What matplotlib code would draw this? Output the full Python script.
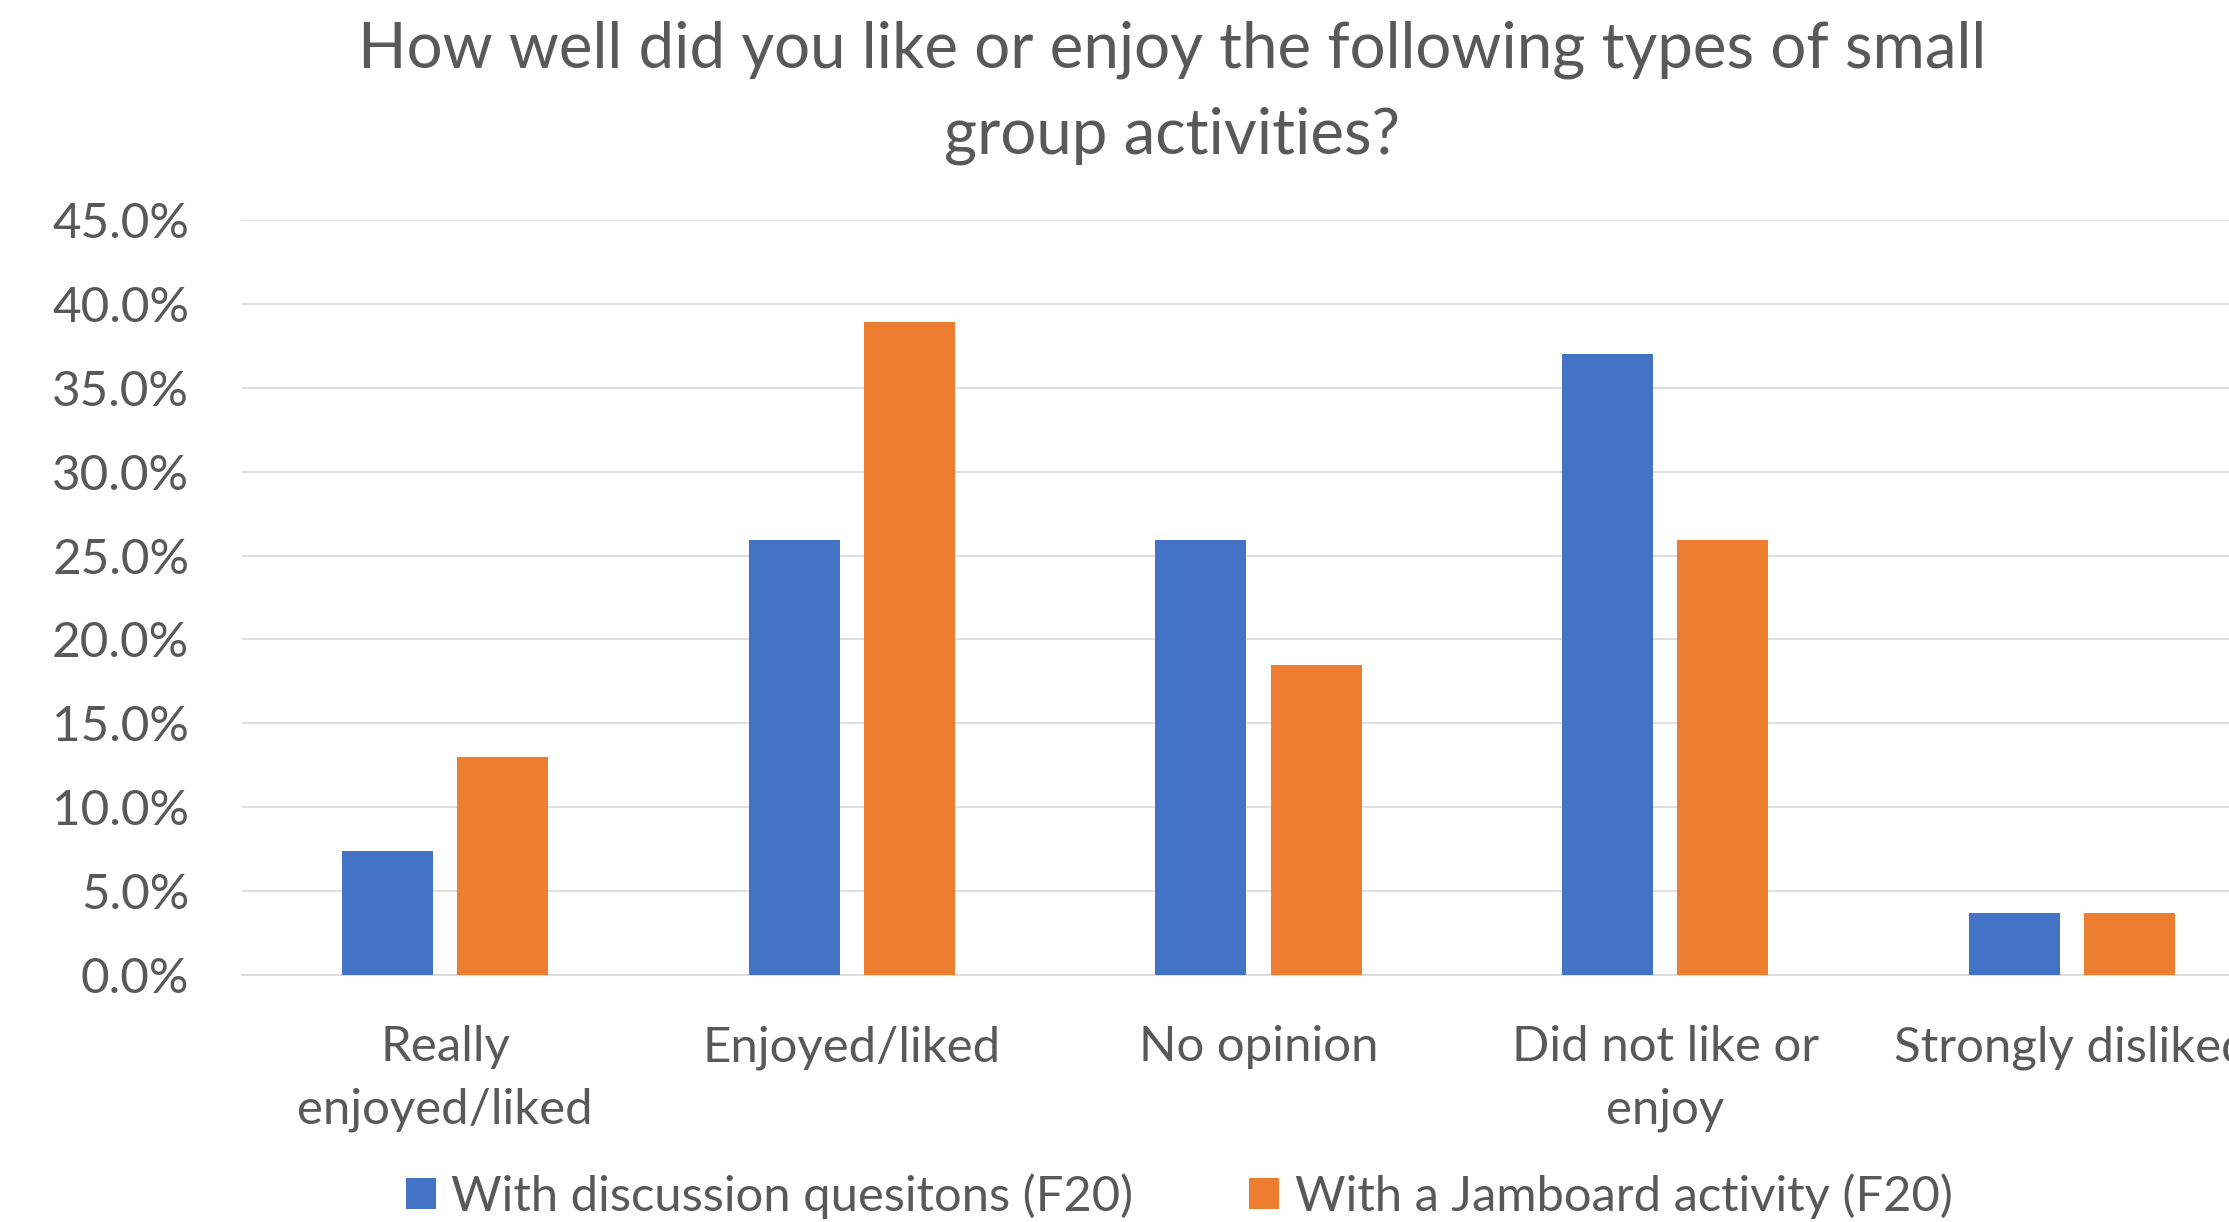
import numpy as np
import matplotlib
matplotlib.use("Agg")
import matplotlib.pyplot as plt
from matplotlib.ticker import FuncFormatter

# Data (share of responses, %)
categories = ["Really\nenjoyed/liked", "Enjoyed/liked", "No opinion",
              "Did not like or\nenjoy", "Strongly disliked"]
discussion = [7.4, 25.9, 25.9, 37.0, 3.7]
jamboard = [13.0, 38.9, 18.5, 25.9, 3.7]
series_names = ["With discussion quesitons (F20)", "With a Jamboard activity (F20)"]

plt.rcParams["font.family"] = ["Lato", "DejaVu Sans"]
text_color = "#595959"
grid_color = "#D9D9D9"

W, H, DPI = 2229, 1222, 200
fig = plt.figure(figsize=(W / DPI, H / DPI), dpi=DPI)

# plot area runs past the right edge, as in the cropped original
left, right, top, bottom = 242, 2275, 220, 975
ax = fig.add_axes([left / W, 1 - bottom / H, (right - left) / W, (bottom - top) / H])

x = np.arange(len(categories))
offset = 0.1416
width = 0.224
b1 = ax.bar(x - offset, discussion, width, color="#4472C4", label=series_names[0], zorder=3)
b2 = ax.bar(x + offset, jamboard, width, color="#ED7D31", label=series_names[1], zorder=3)

ax.set_xlim(-0.5, len(categories) - 0.5)
ax.set_ylim(0, 45)
ax.set_yticks(np.arange(0, 46, 5))
ax.yaxis.set_major_formatter(FuncFormatter(lambda v, p: f"{v:.1f}%"))
ax.set_xticks(x)
ax.set_xticklabels(categories, linespacing=1.5)

ax.grid(axis="y", color=grid_color, linewidth=0.6, zorder=0)
for s in ["top", "right", "left"]:
    ax.spines[s].set_visible(False)
ax.spines["bottom"].set_color(grid_color)
ax.spines["bottom"].set_linewidth(0.6)

ax.tick_params(axis="y", length=0, pad=19, labelsize=17.8, labelcolor=text_color)
ax.tick_params(axis="x", length=0, pad=18, labelsize=17.7, labelcolor=text_color)

fig.text(0.526, 0.924, "How well did you like or enjoy the following types of small\ngroup activities?",
         ha="center", va="center", fontsize=22.9, color=text_color, linespacing=1.6)

leg = fig.legend(handles=[b1, b2], loc="center", bbox_to_anchor=(0.529, 1 - 1196 / H),
                 ncol=2, frameon=False, fontsize=17.6, handlelength=0.61, handleheight=0.61,
                 handletextpad=0.32, columnspacing=2.37, labelcolor=text_color)

fig.savefig("out.png", dpi=DPI)
